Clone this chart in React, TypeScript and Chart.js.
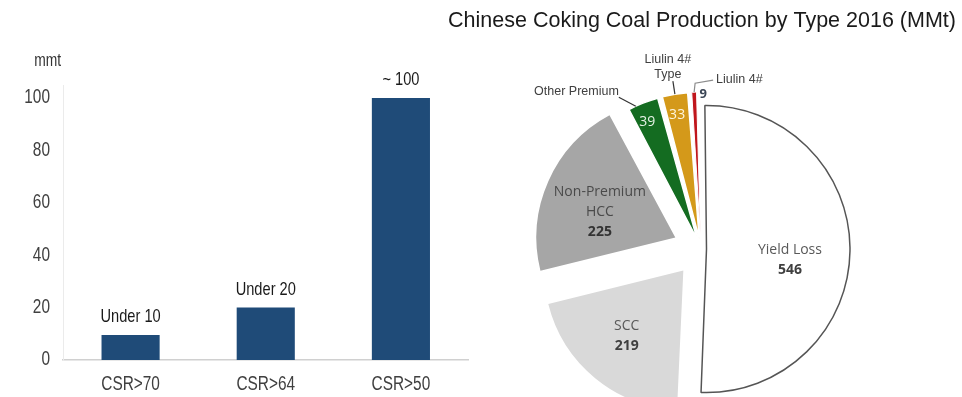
import React, { useEffect, useRef } from "react";
import { Chart, registerables } from "chart.js";

Chart.register(...registerables);

// ---- Left bar chart data ----
const barCategories = ["CSR>70", "CSR>64", "CSR>50"];
const barValues = [9.5, 20, 100];
const barValueLabels = ["Under 10", "Under 20", "~ 100"];
const yAxisUnit = "mmt";
const yMax = 105;
const yStep = 20;

// ---- Right pie chart data ----
const pieTitle = "Chinese Coking Coal Production by Type 2016 (MMt)";
const pieLabels = ["Yield Loss", "SCC", "Non-Premium HCC", "Other Premium", "Liulin 4# Type", "Liulin 4#"];
const pieValues = [546, 219, 225, 39, 33, 9];
const pieColors = ["#ffffff", "#d9d9d9", "#a6a6a6", "#146c21", "#d4991a", "#c0161c"];

const ARIAL = "'Liberation Sans', Arial, sans-serif";
const SOFT = "'Open Sans', 'Noto Sans', sans-serif";
const BAR_COLOR = "#1f4b78";
const SX = 0.79; // condensed look of the left chart's text

function drawCondensed(ctx: CanvasRenderingContext2D, text: string, x: number, y: number, align: CanvasTextAlign) {
  ctx.save();
  ctx.translate(x, y);
  ctx.scale(SX, 1);
  ctx.textAlign = align;
  ctx.fillText(text, 0, 0);
  ctx.restore();
}

const barLabelPlugin = {
  id: "barLabels",
  afterDraw(chart: any) {
    const ctx = chart.ctx as CanvasRenderingContext2D;
    const area = chart.chartArea;
    const xs = chart.scales.x;
    const ys = chart.scales.y;
    const meta = chart.getDatasetMeta(0);
    ctx.save();
    ctx.textBaseline = "middle";

    // tick labels (from the chart's own scales)
    ctx.fillStyle = "#404040";
    ctx.font = `19.5px ${ARIAL}`;
    ys.ticks.forEach((t: any) => {
      drawCondensed(ctx, String(t.label), area.left - 13, ys.getPixelForValue(t.value), "right");
    });
    xs.ticks.forEach((t: any, i: number) => {
      drawCondensed(ctx, String(xs.getLabelForValue(t.value)), xs.getPixelForTick(i), area.bottom + 25, "center");
    });

    // value labels above bars
    ctx.fillStyle = "#1a1a1a";
    ctx.font = `18.5px ${ARIAL}`;
    meta.data.forEach((bar: any, i: number) => {
      drawCondensed(ctx, barValueLabels[i], bar.x, bar.y - 18, "center");
    });

    // unit
    ctx.fillStyle = "#333333";
    ctx.font = `17.5px ${ARIAL}`;
    ctx.textBaseline = "alphabetic";
    drawCondensed(ctx, yAxisUnit, area.left - 2, area.top - 19, "right");
    ctx.restore();
  },
};

// label layout (style) per slice: radius fraction, angle nudge (deg), text colours
const inner: Record<number, { f: number; d: number; color: string; boldColor: string; wrap: boolean }> = {
  0: { f: 0.57, d: 7, color: "#595959", boldColor: "#3f3f3f", wrap: false },
  1: { f: 0.62, d: 1.5, color: "#595959", boldColor: "#3f3f3f", wrap: false },
  2: { f: 0.57, d: -5.5, color: "#4a4a4a", boldColor: "#333333", wrap: true },
};

function arcGeom(arc: any) {
  const p = arc.getProps(["x", "y", "startAngle", "endAngle", "outerRadius", "circumference"], true);
  const mid = (p.startAngle + p.endAngle) / 2;
  const off = (arc.options.offset || 0) / 4;
  const fix = 1 - Math.sin(Math.min(Math.PI, p.circumference || 0));
  const t = off + off * fix;
  return { cx: p.x + Math.cos(mid) * t, cy: p.y + Math.sin(mid) * t, mid, r: p.outerRadius };
}

function polar(g: any, dDeg: number, frac: number) {
  const a = g.mid + (dDeg * Math.PI) / 180;
  return { x: g.cx + Math.cos(a) * g.r * frac, y: g.cy + Math.sin(a) * g.r * frac };
}

const pieLabelPlugin = {
  id: "pieLabels",
  afterDraw(chart: any) {
    const ctx = chart.ctx;
    const meta = chart.getDatasetMeta(0);
    const arcs = meta.data;
    ctx.save();
    // title
    ctx.fillStyle = "#1a1a1a";
    ctx.font = `21.5px ${ARIAL}`;
    ctx.textAlign = "center";
    ctx.textBaseline = "middle";
    ctx.fillText(pieTitle, 262, 21);

    // inside labels for big slices
    Object.keys(inner).forEach((k) => {
      const i = Number(k);
      const s = inner[i];
      const g = arcGeom(arcs[i]);
      const c = polar(g, s.d, s.f);
      const name = pieLabels[i];
      let lines: string[] = [name];
      if (s.wrap) {
        const idx = name.lastIndexOf(" ");
        lines = [name.slice(0, idx), name.slice(idx + 1)];
      }
      const all = [...lines, String(pieValues[i])];
      const n = all.length;
      all.forEach((txt, j) => {
        const y = c.y + (j - (n - 1) / 2) * 20;
        const isNum = j === n - 1;
        ctx.font = isNum ? `bold 14px ${SOFT}` : `14px ${SOFT}`;
        ctx.fillStyle = isNum ? s.boldColor : s.color;
        ctx.fillText(txt, c.x, y);
      });
    });

    // values inside thin slices
    const g3 = arcGeom(arcs[3]);
    const g4 = arcGeom(arcs[4]);
    const g5 = arcGeom(arcs[5]);
    ctx.font = `14px ${SOFT}`;
    let c = polar(g3, -1.5, 0.86);
    ctx.fillStyle = "#e4f1e4";
    ctx.fillText(String(pieValues[3]), c.x, c.y);
    c = polar(g4, -0.6, 0.85);
    ctx.fillStyle = "#fff6dc";
    ctx.fillText(String(pieValues[4]), c.x, c.y);

    // external labels + leader lines
    ctx.lineWidth = 1.2;
    ctx.font = `12.5px ${ARIAL}`;
    ctx.fillStyle = "#404040";

    // Other Premium
    let p = polar(g3, -3.25, 1.0);
    ctx.strokeStyle = "#333333";
    ctx.beginPath();
    ctx.moveTo(p.x, p.y);
    ctx.lineTo(p.x - 17, p.y - 9);
    ctx.stroke();
    ctx.textAlign = "right";
    ctx.fillText(pieLabels[3], p.x - 17, p.y - 15);

    // Liulin 4# Type
    p = polar(g4, 0, 1.0);
    ctx.beginPath();
    ctx.moveTo(p.x, p.y);
    ctx.lineTo(p.x - 2, p.y - 13);
    ctx.stroke();
    ctx.textAlign = "center";
    const nm = pieLabels[4];
    const idx = nm.lastIndexOf(" ");
    ctx.fillText(nm.slice(0, idx), p.x - 7, p.y - 35);
    ctx.fillText(nm.slice(idx + 1), p.x - 7, p.y - 20);

    // Liulin 4#
    p = polar(g5, 0, 1.0);
    ctx.strokeStyle = "#8c8c8c";
    ctx.beginPath();
    ctx.moveTo(p.x, p.y);
    ctx.lineTo(p.x + 1, p.y - 9);
    ctx.lineTo(p.x + 19, p.y - 12);
    ctx.stroke();
    ctx.textAlign = "left";
    ctx.fillText(pieLabels[5], p.x + 22, p.y - 13);
    ctx.textAlign = "center";
    ctx.font = `bold 13px ${SOFT}`;
    ctx.fillStyle = "#3b4656";
    ctx.fillText(String(pieValues[5]), p.x + 9, p.y + 2);
    ctx.restore();
  },
};

export default function App() {
  const barRef = useRef<HTMLCanvasElement | null>(null);
  const pieRef = useRef<HTMLCanvasElement | null>(null);

  useEffect(() => {
    const bar = new Chart(barRef.current as HTMLCanvasElement, {
      type: "bar",
      data: {
        labels: barCategories,
        datasets: [
          {
            data: barValues,
            backgroundColor: BAR_COLOR,
            barPercentage: 0.43,
            categoryPercentage: 1,
          },
        ],
      },
      options: {
        responsive: false,
        animation: false,
        events: [],
        layout: { padding: { top: 85, right: 1.5, left: 0, bottom: 0 } },
        plugins: { legend: { display: false }, tooltip: { enabled: false } },
        scales: {
          x: {
            grid: { display: false, drawTicks: false },
            border: { color: "#d0d0d0", width: 1.5 },
            ticks: { display: false },
            afterFit: (s: any) => {
              s.height = 37;
            },
          },
          y: {
            min: 0,
            max: yMax,
            grid: { display: false, drawTicks: false },
            border: { color: "#ebebeb", width: 1 },
            ticks: { display: false, stepSize: yStep, includeBounds: false },
            afterFit: (s: any) => {
              s.width = 63;
            },
          },
        },
      } as any,
      plugins: [barLabelPlugin],
    });

    const pie = new Chart(pieRef.current as HTMLCanvasElement, {
      type: "pie",
      data: {
        labels: pieLabels,
        datasets: [
          {
            data: pieValues,
            backgroundColor: pieColors,
            borderColor: ["#555555", "#ffffff", "#ffffff", "#ffffff", "#ffffff", "#ffffff"],
            borderWidth: [1.5, 0, 0, 1.5, 1.5, 1],
            borderJoinStyle: "bevel",
            offset: [22, 111.5, 112.5, 42.9, 42.0, 39.0],
          },
        ],
      },
      options: {
        responsive: false,
        animation: false,
        events: [],
        rotation: -1,
        radius: 138,
        layout: { padding: { top: 101, bottom: 0, left: 0, right: 0 } },
        plugins: { legend: { display: false }, tooltip: { enabled: false } },
      } as any,
      plugins: [pieLabelPlugin],
    });

    return () => {
      bar.destroy();
      pie.destroy();
    };
  }, []);

  return (
    <div
      style={{
        position: "fixed",
        left: 0,
        top: 0,
        width: 962,
        height: 397,
        overflow: "hidden",
        background: "#ffffff",
      }}
    >
      <canvas
        ref={barRef}
        width={470}
        height={397}
        style={{ position: "absolute", left: 0, top: 0, width: 470, height: 397 }}
      />
      <canvas
        ref={pieRef}
        width={522}
        height={397}
        style={{ position: "absolute", left: 440, top: 0, width: 522, height: 397 }}
      />
    </div>
  );
}
